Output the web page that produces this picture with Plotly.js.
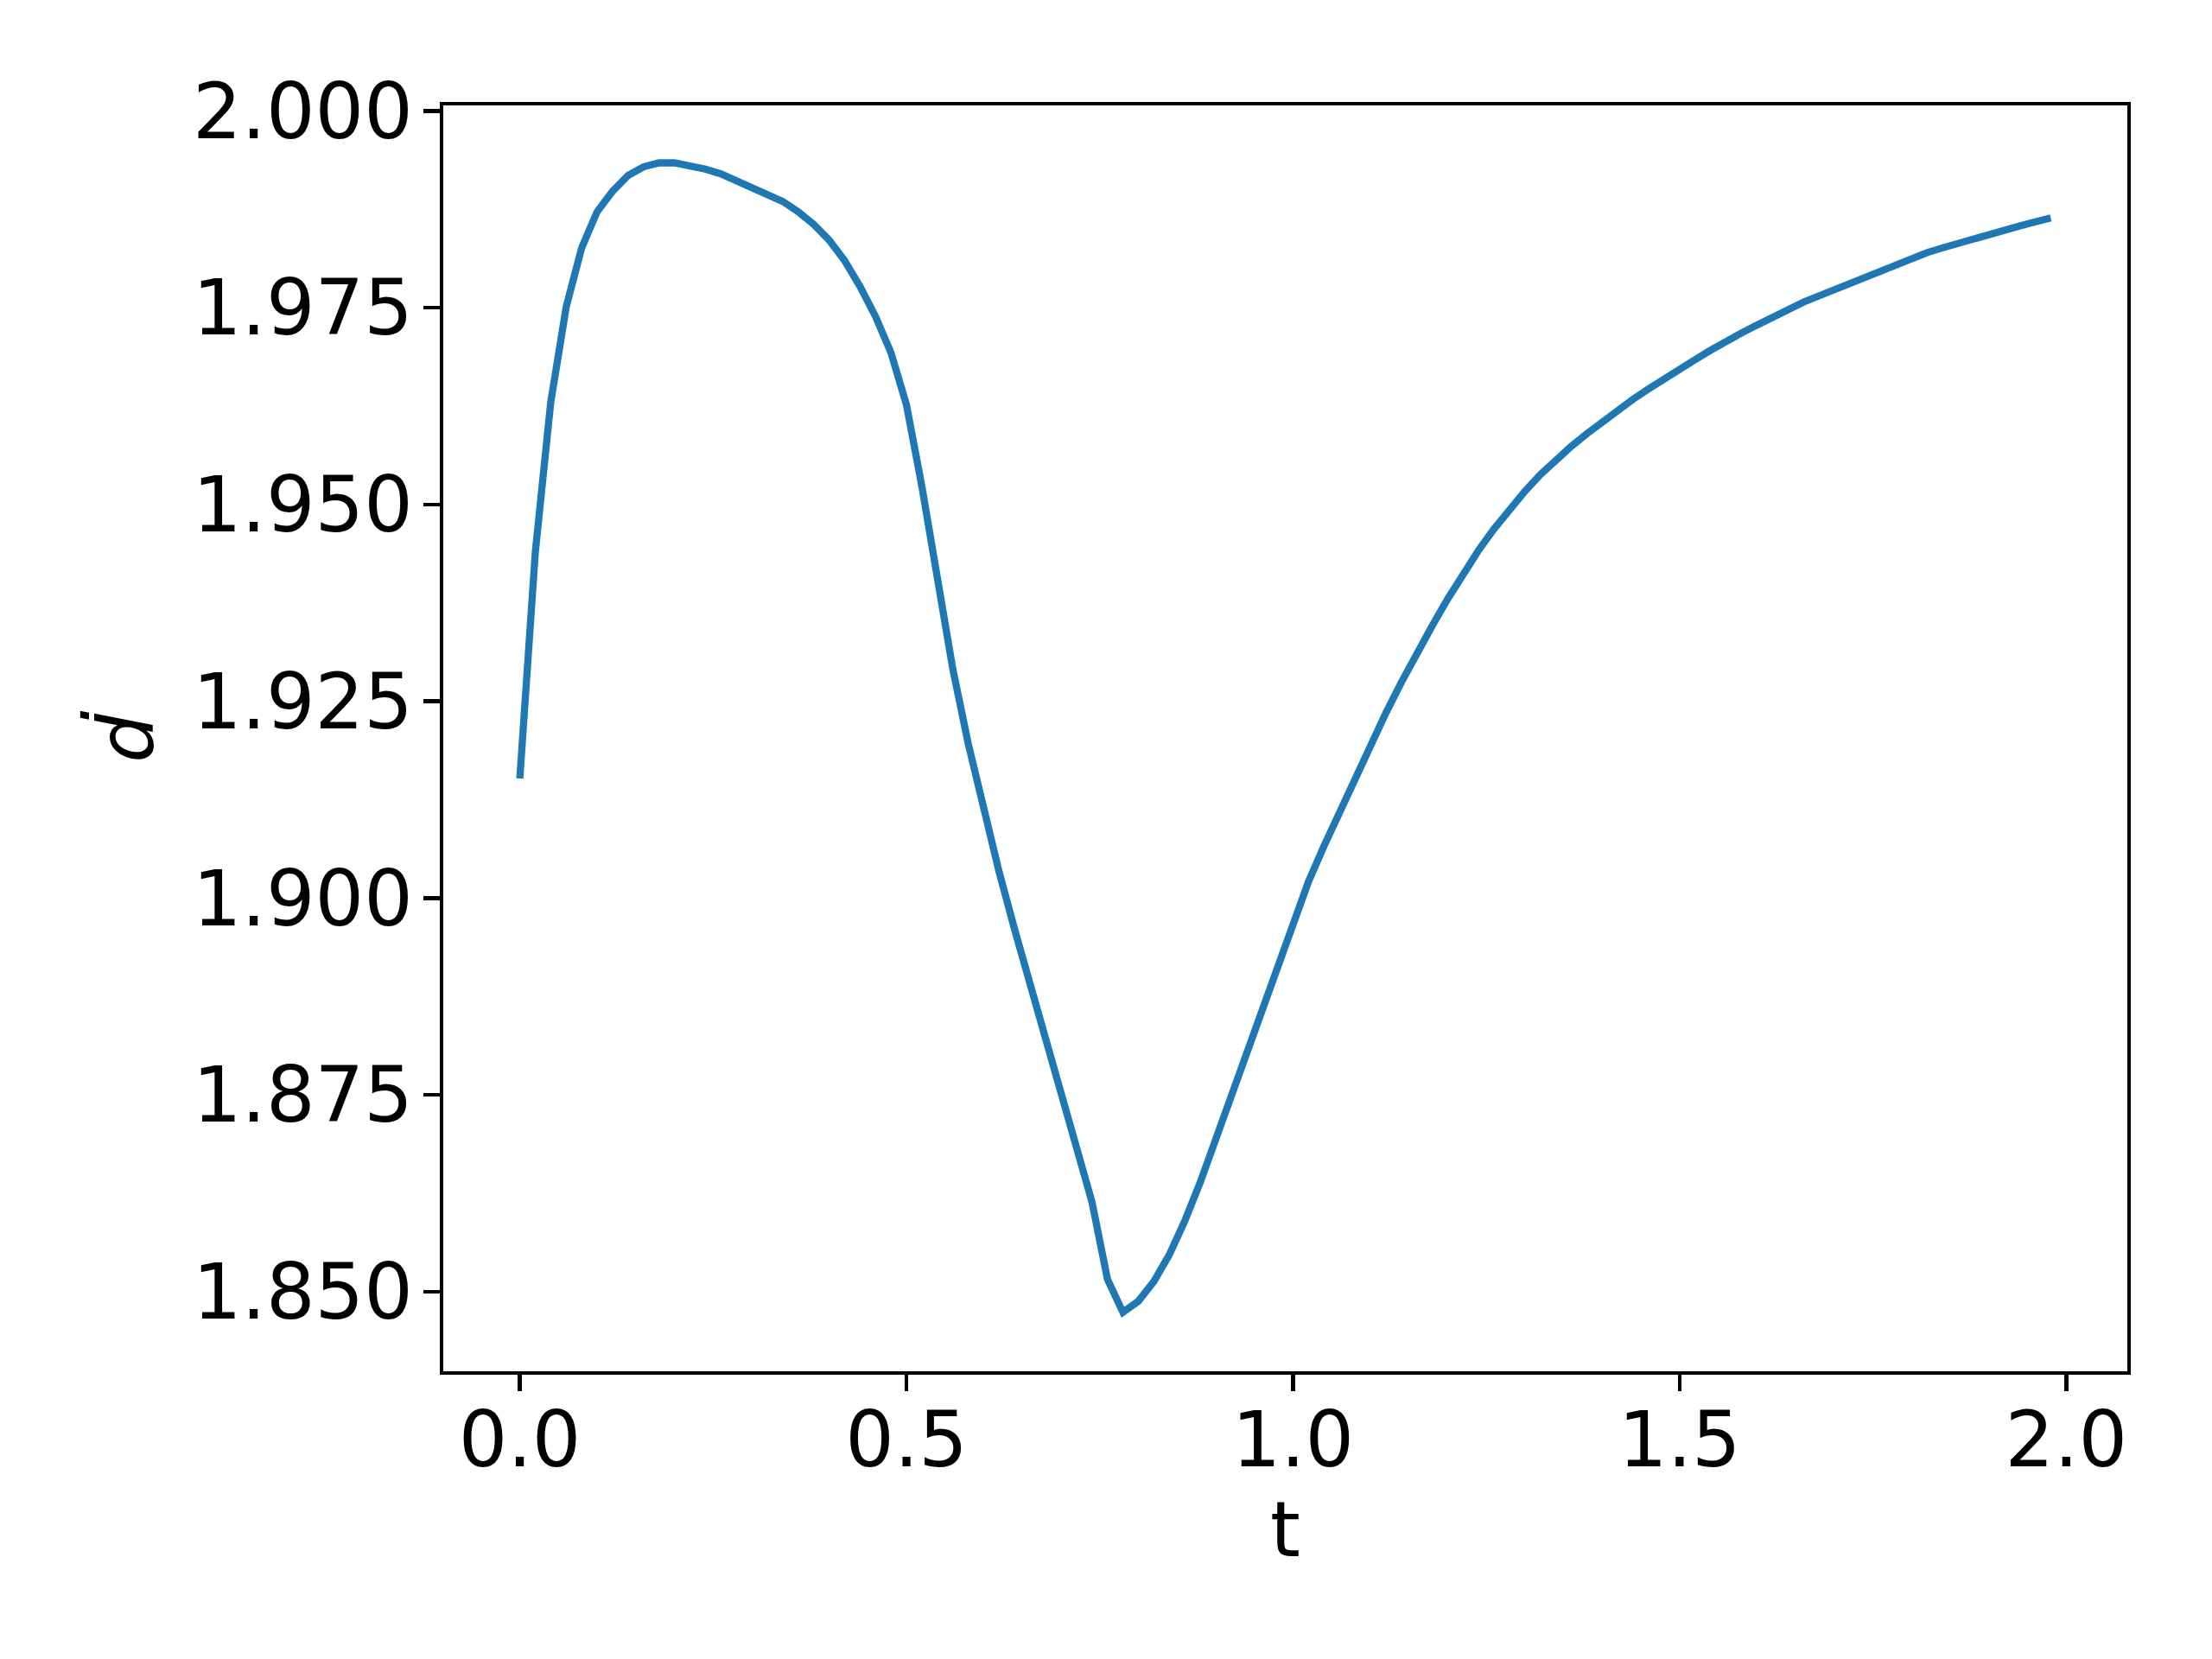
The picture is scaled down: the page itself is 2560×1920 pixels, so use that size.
<!DOCTYPE html>
<html>
<head>
<meta charset="utf-8">
<script src="https://cdn.plot.ly/plotly-3.0.1.min.js"></script>
<style>
	html, body { margin: 0; padding: 0; background: #fff; }
	#chart { width: 2560px; height: 1920px; }
</style>
</head>
<body>
<div id="chart"></div>
<script>
// time samples, every 0.02
const tValues = [
	0.00, 0.02, 0.04, 0.06, 0.08, 0.10, 0.12, 0.14, 0.16, 0.18,
	0.20, 0.22, 0.24, 0.26, 0.28, 0.30, 0.32, 0.34, 0.36, 0.38,
	0.40, 0.42, 0.44, 0.46, 0.48, 0.50, 0.52, 0.54, 0.56, 0.58,
	0.60, 0.62, 0.64, 0.66, 0.68, 0.70, 0.72, 0.74, 0.76, 0.78,
	0.80, 0.82, 0.84, 0.86, 0.88, 0.90, 0.92, 0.94, 0.96, 0.98,
	1.00, 1.02, 1.04, 1.06, 1.08, 1.10, 1.12, 1.14, 1.16, 1.18,
	1.20, 1.22, 1.24, 1.26, 1.28, 1.30, 1.32, 1.34, 1.36, 1.38,
	1.40, 1.42, 1.44, 1.46, 1.48, 1.50, 1.52, 1.54, 1.56, 1.58,
	1.60, 1.62, 1.64, 1.66, 1.68, 1.70, 1.72, 1.74, 1.76, 1.78,
	1.80, 1.82, 1.84, 1.86, 1.88, 1.90, 1.92, 1.94, 1.96, 1.98
];

// d-dot
const dDotValues = [
	1.9152, 1.9439, 1.9630, 1.9751, 1.9826, 1.9872, 1.9898, 1.9918, 1.9929, 1.9934,
	1.9934, 1.9931, 1.9926, 1.9920, 1.9911, 1.9903, 1.9895, 1.9885, 1.9872, 1.9856,
	1.9836, 1.9810, 1.9777, 1.9739, 1.9693, 1.9627, 1.9523, 1.9403, 1.9291, 1.9196,
	1.9110, 1.9033, 1.8960, 1.8890, 1.8821, 1.8751, 1.8682, 1.8614, 1.8516, 1.8474,
	1.8488, 1.8513, 1.8547, 1.8590, 1.8639, 1.8693, 1.8749, 1.8805, 1.8860, 1.8915,
	1.8969, 1.9021, 1.9066, 1.9109, 1.9152, 1.9194, 1.9235, 1.9274, 1.9311, 1.9346,
	1.9380, 1.9412, 1.9442, 1.9469, 1.9494, 1.9517, 1.9538, 1.9557, 1.9574, 1.9590,
	1.9605, 1.9620, 1.9634, 1.9647, 1.9660, 1.9672, 1.9684, 1.9696, 1.9708, 1.9718,
	1.9728, 1.9738, 1.9748, 1.9757, 1.9765, 1.9773, 1.9781, 1.9789, 1.9797, 1.9805,
	1.9813, 1.9820, 1.9826, 1.9832, 1.9838, 1.9844, 1.9849, 1.9854, 1.9859, 1.9864
];

const xTitle = "t";
const yTitle = "<i>ḋ</i>";

let trace = {
	x: tValues,
	y: dDotValues,
	type: "scatter",
	mode: "lines",
	line: { color: "#1f77b4", width: 8.3 },
	hoverinfo: "skip",
};

let labelFont = { family: "DejaVu Sans", size: 89, color: "#000" };

let axisCommon = {
	showline: true,
	mirror: true,
	linecolor: "#000",
	linewidth: 4.4,
	showgrid: false,
	zeroline: false,
	ticks: "outside",
	ticklen: 19,
	tickwidth: 4.4,
	tickcolor: "#000",
	tickfont: labelFont,
};

let layout = {
	width: 2560,
	height: 1920,
	margin: { l: 513, r: 98, t: 122, b: 333 },
	paper_bgcolor: "#fff",
	plot_bgcolor: "#fff",
	showlegend: false,
	font: { family: "DejaVu Sans", color: "#000" },
	xaxis: Object.assign({}, axisCommon, {
		range: [-0.099, 2.079],
		tick0: 0,
		dtick: 0.5,
		tickformat: ".1f",
		ticklabelstandoff: -20,
		title: { text: xTitle, font: labelFont, standoff: 18 },
	}),
	yaxis: Object.assign({}, axisCommon, {
		range: [1.8399, 2.0007],
		tick0: 1.85,
		dtick: 0.025,
		tickformat: ".3f",
		ticklabelstandoff: -6,
		title: { text: yTitle, font: labelFont, standoff: 17 },
	}),
};

Plotly.newPlot("chart", [trace], layout, { staticPlot: true });
</script>
</body>
</html>
